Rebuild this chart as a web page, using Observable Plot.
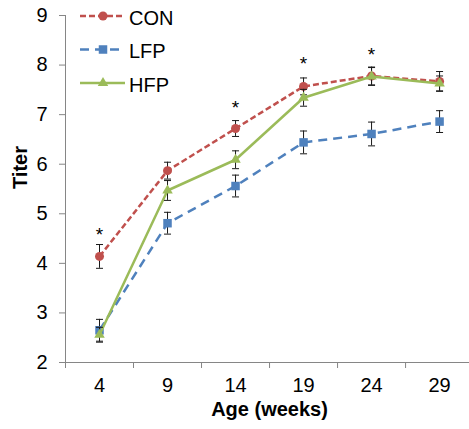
<!DOCTYPE html>
<html>
<head>
<meta charset="utf-8">
<script src="https://cdn.jsdelivr.net/npm/d3@7"></script>
<script src="https://cdn.jsdelivr.net/npm/@observablehq/plot@0.6"></script>
<style>
  html, body { margin: 0; padding: 0; background: white; }
  #chart { position: relative; width: 469px; height: 429px; }
</style>
</head>
<body>
<div id="chart"></div>
<script>
// ---- data ----
const ages = [4, 9, 14, 19, 24, 29];
const seriesNames = ["CON", "LFP", "HFP"];
const conMean = [4.14, 5.87, 6.72, 7.57, 7.78, 7.67];
const conErr  = [0.24, 0.17, 0.16, 0.17, 0.18, 0.20];
const lfpMean = [2.65, 4.81, 5.56, 6.44, 6.61, 6.86];
const lfpErr  = [0.22, 0.22, 0.22, 0.23, 0.24, 0.22];
const hfpMean = [2.56, 5.47, 6.09, 7.34, 7.77, 7.63];
const hfpErr  = [0.15, 0.20, 0.18, 0.17, 0.18, 0.15];
const starAges = [4, 14, 19, 24];
const starY = [4.68, 7.24, 8.13, 8.31];
const yTicks = [2, 3, 4, 5, 6, 7, 8, 9];
const yTickLabels = ["2", "3", "4", "5", "6", "7", "8", "9"];
const xTickLabels = ["4", "9", "14", "19", "24", "29"];

// ---- styles ----
const colors = {CON: "#C0504D", LFP: "#4F81BD", HFP: "#9BBB59"};
const dashes = {CON: "6,3", LFP: "9,6", HFP: null};
const symbols = {CON: "circle", LFP: "square", HFP: "triangle"};
const radii = {CON: 4.5, LFP: 4.8, HFP: 3.9};
const axisGray = "#868686";

const means = {CON: conMean, LFP: lfpMean, HFP: hfpMean};
const errs = {CON: conErr, LFP: lfpErr, HFP: hfpErr};
const rows = seriesNames.flatMap(s => ages.map((a, i) => ({series: s, age: a, mean: means[s][i], err: errs[s][i]})));
const boundaries = ages.map(a => a - 2.5);

const capSymbol = {draw(ctx) { ctx.moveTo(-3.5, 0); ctx.lineTo(3.5, 0); }};

const seriesMarks = seriesNames.flatMap(s => {
  const d = rows.filter(r => r.series === s);
  const caps = d.flatMap(r => [{age: r.age, v: r.mean - r.err}, {age: r.age, v: r.mean + r.err}]);
  return [
    Plot.line(d, {x: "age", y: "mean", stroke: colors[s], strokeWidth: 2.5, strokeDasharray: dashes[s], strokeLinecap: "butt"}),
    Plot.ruleX(d, {x: "age", y1: r => r.mean - r.err, y2: r => r.mean + r.err, stroke: "#1a1a1a", strokeWidth: 1}),
    Plot.dot(caps, {x: "age", y: "v", symbol: capSymbol, fill: "none", stroke: "#1a1a1a", strokeWidth: 1, r: 3}),
    Plot.dot(d, {x: "age", y: "mean", symbol: symbols[s], r: radii[s], fill: colors[s], stroke: "none"})
  ];
});

const chart = Plot.plot({
  width: 469,
  height: 429,
  marginLeft: 65,
  marginRight: 0,
  marginTop: 15,
  marginBottom: 67,
  style: {fontFamily: "'Liberation Sans', Arial, sans-serif", fontSize: "20px", background: "white", color: "black", overflow: "visible"},
  x: {type: "linear", domain: [1.5, 31.2]},
  y: {domain: [2, 9]},
  marks: [
    Plot.ruleX([1.5], {stroke: axisGray}),
    Plot.ruleY([2], {stroke: axisGray}),
    Plot.axisY({ticks: yTicks, tickSize: 6, tickPadding: 12, tickFormat: d => yTickLabels[yTicks.indexOf(d)], stroke: axisGray, fill: "black", label: null, fontSize: 20}),
    Plot.axisX({ticks: boundaries, tickSize: 6, tickFormat: () => "", stroke: axisGray, label: null}),
    Plot.axisX({ticks: ages, tickSize: 0, tickPadding: 15, tickFormat: d => xTickLabels[ages.indexOf(d)], fill: "black", label: null, fontSize: 20}),
    Plot.text(["Age (weeks)"], {frameAnchor: "bottom", dy: 53, dx: 2, fontWeight: "bold", fontSize: 20, fill: "black"}),
    Plot.text(["Titer"], {frameAnchor: "left", dx: -45, rotate: -90, fontWeight: "bold", fontSize: 20, fill: "black"}),
    ...seriesMarks,
    Plot.text(starAges, {x: d => d, y: (d, i) => starY[i], text: () => "*", fontSize: 19, dy: 5, fill: "black"})
  ]
});

document.getElementById("chart").appendChild(chart);

// ---- legend (inside plot area, top-left) ----
const svg = d3.select(chart);
const lg = svg.append("g")
  .attr("font-family", "'Liberation Sans', Arial, sans-serif")
  .attr("font-size", 20)
  .attr("text-anchor", "start");
seriesNames.forEach((s, i) => {
  const y0 = 16 + i * 33.5;
  const g = lg.append("g");
  g.append("line").attr("x1", 80).attr("x2", 125).attr("y1", y0).attr("y2", y0)
    .attr("stroke", colors[s]).attr("stroke-width", 2.5)
    .attr("stroke-dasharray", dashes[s]);
  const symType = {circle: d3.symbolCircle, square: d3.symbolSquare, triangle: d3.symbolTriangle}[symbols[s]];
  g.append("path").attr("transform", `translate(103,${y0})`)
    .attr("d", d3.symbol(symType, Math.PI * radii[s] * radii[s])())
    .attr("fill", colors[s]);
  g.append("text").attr("x", 129).attr("y", y0 + 8.5).attr("fill", "black").text(s);
});
</script>
</body>
</html>
